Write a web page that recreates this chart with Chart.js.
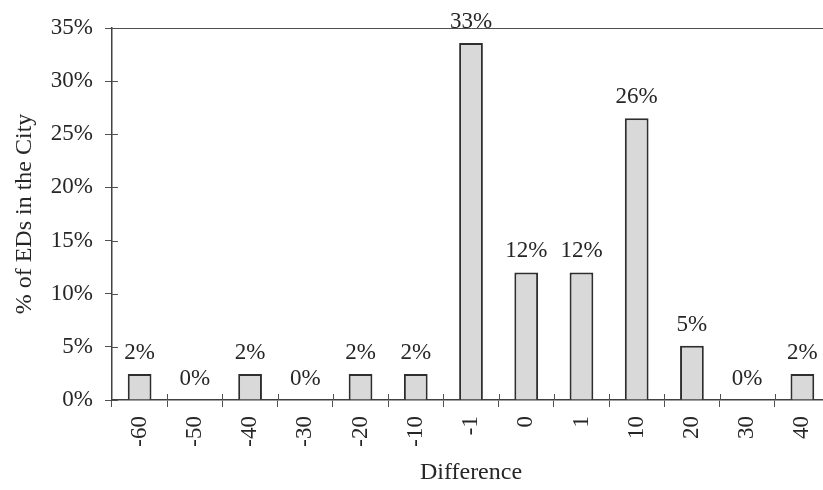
<!DOCTYPE html>
<html>
<head>
<meta charset="utf-8">
<script src="https://cdn.jsdelivr.net/npm/chart.js@4/dist/chart.umd.min.js"></script>
<style>
  html, body { margin: 0; padding: 0; background: #fff; overflow: hidden; }
  #wrap { width: 850px; height: 490px; }
</style>
</head>
<body>
<div id="wrap"><canvas id="chart" width="850" height="490"></canvas></div>
<script>
// categories on the x axis
const categories = ["-60", "-50", "-40", "-30", "-20", "-10", "-1", "0", "1", "10", "20", "30", "40"];
// share of EDs in each difference class (percent)
const shares = [2.45, 0, 2.45, 0, 2.45, 2.45, 33.6, 12, 12, 26.5, 5.1, 0, 2.45];
// printed labels above the bars
const shareLabels = ["2%", "0%", "2%", "0%", "2%", "2%", "33%", "12%", "12%", "26%", "5%", "0%", "2%"];
// y axis ticks
const yTicks = [0, 5, 10, 15, 20, 25, 30, 35];

const serif = "'Liberation Serif', 'Times New Roman', serif";
const ink = "#262626";
const axisInk = "#505050";

// percent labels above bars
const barLabels = {
  id: "barLabels",
  afterDatasetsDraw(chart) {
    const ctx = chart.ctx;
    const meta = chart.getDatasetMeta(0);
    ctx.save();
    ctx.font = "23px " + serif;
    ctx.fillStyle = ink;
    ctx.textAlign = "center";
    ctx.textBaseline = "alphabetic";
    meta.data.forEach((bar, i) => {
      ctx.fillText(shareLabels[i], bar.x, bar.y - 15);
    });
    ctx.restore();
  }
};

// the tick marks cross the axes, so add the inner half
const innerTicks = {
  id: "innerTicks",
  afterDraw(chart) {
    const ctx = chart.ctx;
    const x = chart.scales.x, y = chart.scales.y;
    ctx.save();
    ctx.strokeStyle = axisInk;
    ctx.lineWidth = 1;
    ctx.beginPath();
    yTicks.forEach(v => {
      const py = Math.round(y.getPixelForValue(v)) + 0.5;
      ctx.moveTo(y.right, py);
      ctx.lineTo(y.right + 6, py);
    });
    for (let i = 1; i < categories.length; i++) {
      const px = Math.round((x.getPixelForValue(i - 1) + x.getPixelForValue(i)) / 2) + 0.5;
      ctx.moveTo(px, x.top);
      ctx.lineTo(px, x.top - 6);
    }
    ctx.stroke();
    ctx.restore();
  }
};

new Chart(document.getElementById("chart"), {
  type: "bar",
  data: {
    labels: categories,
    datasets: [{
      data: shares,
      backgroundColor: "#d9d9d9",
      borderColor: "#2e2e2e",
      borderWidth: 2,
      borderSkipped: "bottom",
      barPercentage: 0.43,
      categoryPercentage: 1
    }]
  },
  options: {
    responsive: false,
    animation: false,
    layout: { padding: { top: 28, right: 20, left: 0, bottom: 0 } },
    plugins: { legend: { display: false }, tooltip: { enabled: false } },
    scales: {
      x: {
        afterFit: s => { s.height = 90; },
        grid: { drawOnChartArea: false, tickLength: 7, tickColor: axisInk, offset: true },
        border: { color: "#404040", width: 1.5 },
        ticks: { minRotation: 90, maxRotation: 90, padding: 9, color: ink, font: { family: serif, size: 23 } },
        title: { display: true, text: "Difference", color: ink, font: { family: serif, size: 24 }, padding: { top: 0, bottom: 3 } }
      },
      y: {
        min: 0,
        max: 35,
        afterFit: s => { s.width = 112; },
        afterBuildTicks: s => { s.ticks = yTicks.map(v => ({ value: v })); },
        grid: {
          color: c => (c.tick && c.tick.value === 35 ? axisInk : "rgba(0,0,0,0)"),
          tickColor: axisInk,
          tickLength: 7
        },
        border: { color: "#404040", width: 1.5 },
        ticks: { padding: 12, color: ink, font: { family: serif, size: 23 }, callback: v => v + "%" },
        title: { display: true, text: "% of EDs in the City", color: ink, font: { family: serif, size: 24 }, padding: { top: 10, bottom: 0 } }
      }
    }
  },
  plugins: [barLabels, innerTicks]
});
</script>
</body>
</html>
